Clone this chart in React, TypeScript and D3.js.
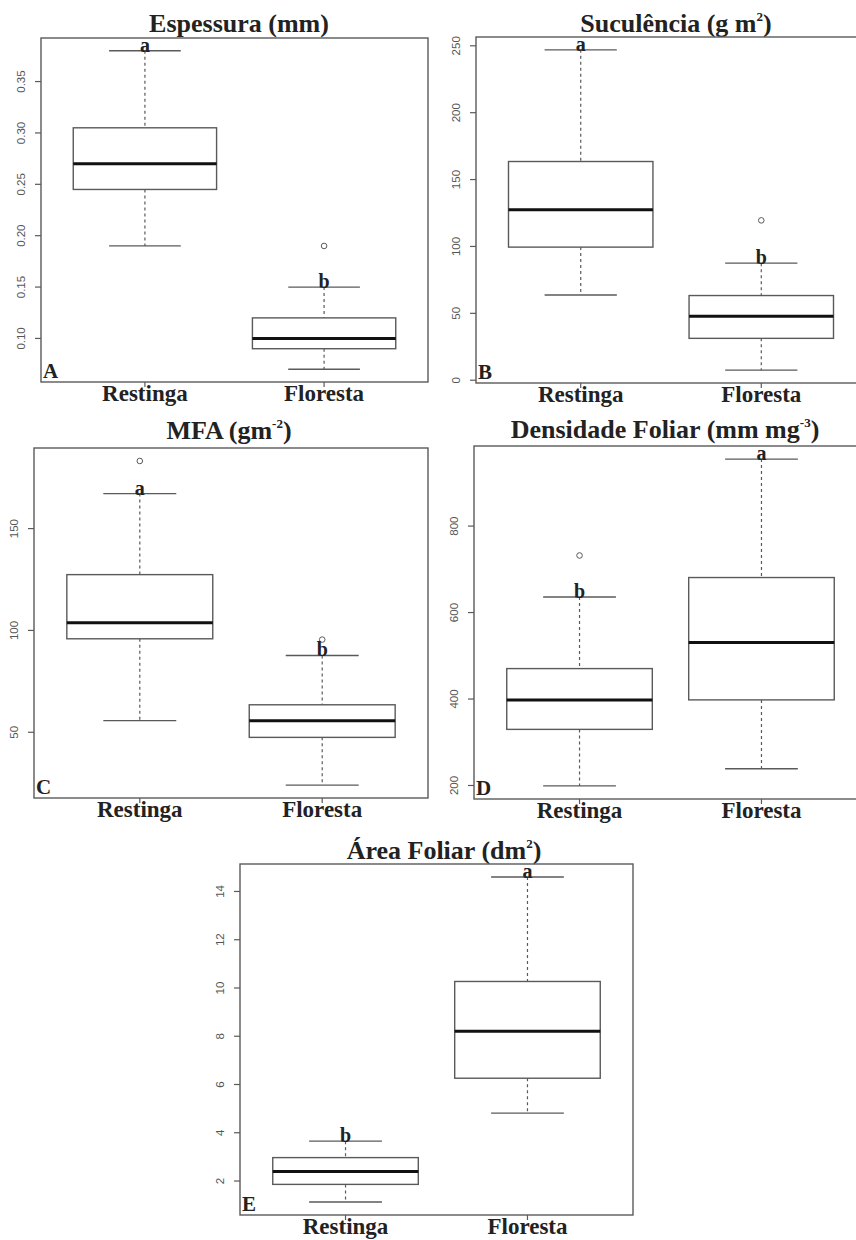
import React from "react";
import * as d3 from "d3";

// Groups shown in every panel
const groups = ["Restinga", "Floresta"];

// Box stats per panel: [lower whisker, Q1, median, Q3, upper whisker] for Restinga, Floresta
const espessuraStats = [
  [0.19, 0.245, 0.27, 0.305, 0.38],
  [0.07, 0.09, 0.1, 0.12, 0.15],
];
const espessuraOutliers = [[], [0.19]];
const espessuraTicks = [0.1, 0.15, 0.2, 0.25, 0.3, 0.35];

const suculenciaStats = [
  [63.7, 99.5, 127.5, 163.5, 247],
  [7.5, 31.3, 47.8, 63.3, 87.5],
];
const suculenciaOutliers = [[], [119.5]];
const suculenciaTicks = [0, 50, 100, 150, 200, 250];

const mfaStats = [
  [55.7, 95.9, 103.8, 127.4, 167.2],
  [24.1, 47.5, 55.7, 63.5, 87.7],
];
const mfaOutliers = [[183.2], [95.5]];
const mfaTicks = [50, 100, 150];

const densidadeStats = [
  [199, 329.8, 397.7, 470.4, 636],
  [238.7, 398, 531, 681, 955],
];
const densidadeOutliers = [[732], []];
const densidadeTicks = [200, 400, 600, 800];

const areaStats = [
  [1.13, 1.86, 2.39, 2.97, 3.65],
  [4.81, 6.26, 8.21, 10.27, 14.6],
];
const areaOutliers = [[], []];
const areaTicks = [2, 4, 6, 8, 10, 12, 14];

const letters = [["a", "b"], ["a", "b"], ["a", "b"], ["b", "a"], ["b", "a"]];
const panelLabels = ["A", "B", "C", "D", "E"];

const SERIF = "'Liberation Serif', 'Times New Roman', serif";
const SANS = "'Liberation Sans', Arial, sans-serif";
const GRAY = "#5a5a5a";

type PanelSpec = {
  stats: number[][];
  outliers: number[][];
  ticks: number[];
  fmt: (v: number) => string;
  title: React.ReactNode;
  box: { x0: number; x1: number; y0: number; y1: number };
  titlePos: [number, number];
};

function sup(t: string) {
  return [
    <tspan key="s" dy={-11} fontSize={13}>{t}</tspan>,
    <tspan key="r" dy={11}>)</tspan>,
  ];
}

const panels: PanelSpec[] = [
  {
    stats: espessuraStats, outliers: espessuraOutliers, ticks: espessuraTicks,
    fmt: d3.format(".2f"), title: "Espessura (mm)",
    box: { x0: 41, x1: 428, y0: 38, y1: 382 }, titlePos: [239, 32],
  },
  {
    stats: suculenciaStats, outliers: suculenciaOutliers, ticks: suculenciaTicks,
    fmt: d3.format("d"), title: <>Suculência (g m{sup("2")}</>,
    box: { x0: 476, x1: 866, y0: 37, y1: 383 }, titlePos: [676, 32],
  },
  {
    stats: mfaStats, outliers: mfaOutliers, ticks: mfaTicks,
    fmt: d3.format("d"), title: <>MFA (gm{sup("-2")}</>,
    box: { x0: 34, x1: 428, y0: 448, y1: 798 }, titlePos: [229, 439],
  },
  {
    stats: densidadeStats, outliers: densidadeOutliers, ticks: densidadeTicks,
    fmt: d3.format("d"), title: <>Densidade Foliar (mm mg{sup("-3")}</>,
    box: { x0: 474, x1: 867, y0: 446, y1: 799 }, titlePos: [665, 438],
  },
  {
    stats: areaStats, outliers: areaOutliers, ticks: areaTicks,
    fmt: d3.format("d"), title: <>Área Foliar (dm{sup("2")}</>,
    box: { x0: 240, x1: 633, y0: 864, y1: 1215 }, titlePos: [444, 859],
  },
];

function BoxPanel({ p, idx }: { p: PanelSpec; idx: number }) {
  const { x0, x1, y0, y1 } = p.box;
  // R-style axis limits: data range padded by 4%
  const all = p.stats.flat().concat(p.outliers.flat());
  const lo = d3.min(all)!, hi = d3.max(all)!;
  const pad = (hi - lo) * 0.04;
  const y = d3.scaleLinear().domain([lo - pad, hi + pad]).range([y1, y0]);
  const x = d3.scaleLinear().domain([0.42, 2.58]).range([x0, x1]);
  const bw = 0.4; // half box width in x units

  return (
    <g>
      <text x={p.titlePos[0]} y={p.titlePos[1]} textAnchor="middle" fontFamily={SERIF}
        fontWeight="bold" fontSize={26} fill="#222">{p.title}</text>
      {p.stats.map((s, i) => {
        const cx = x(i + 1);
        const [wl, q1, med, q3, wh] = s;
        return (
          <g key={i}>
            <line x1={cx} x2={cx} y1={y(wh)} y2={y(q3)} stroke={GRAY} strokeWidth={1.2} strokeDasharray="3,3" />
            <line x1={cx} x2={cx} y1={y(q1)} y2={y(wl)} stroke={GRAY} strokeWidth={1.2} strokeDasharray="3,3" />
            <line x1={x(i + 1 - bw / 2)} x2={x(i + 1 + bw / 2)} y1={y(wh)} y2={y(wh)} stroke={GRAY} strokeWidth={1.3} />
            <line x1={x(i + 1 - bw / 2)} x2={x(i + 1 + bw / 2)} y1={y(wl)} y2={y(wl)} stroke={GRAY} strokeWidth={1.3} />
            <rect x={x(i + 1 - bw)} y={y(q3)} width={x(i + 1 + bw) - x(i + 1 - bw)} height={y(q1) - y(q3)}
              fill="white" stroke={GRAY} strokeWidth={1.4} />
            <line x1={x(i + 1 - bw)} x2={x(i + 1 + bw)} y1={y(med)} y2={y(med)} stroke="#111" strokeWidth={3} />
            {p.outliers[i].map((o, j) => (
              <circle key={j} cx={cx} cy={y(o)} r={2.8} fill="none" stroke={GRAY} strokeWidth={1} />
            ))}
            <text x={cx} y={y(wh) + 1} textAnchor="middle" fontFamily={SERIF} fontWeight="bold"
              fontSize={20} fill="#222">{letters[idx][i]}</text>
            <line x1={cx} x2={cx} y1={y1} y2={y1 + 5} stroke={GRAY} strokeWidth={1.2} />
            <text x={cx} y={y1 + 19} textAnchor="middle" fontFamily={SERIF} fontWeight="bold"
              fontSize={23} fill="#222">{groups[i]}</text>
          </g>
        );
      })}
      {p.ticks.map((t) => (
        <g key={t}>
          <line x1={x0 - 6} x2={x0} y1={y(t)} y2={y(t)} stroke={GRAY} strokeWidth={1.2} />
          <text transform={`translate(${x0 - 16},${y(t)}) rotate(-90)`} textAnchor="middle"
            fontFamily={SANS} fontSize={11.5} fill="#555">{p.fmt(t)}</text>
        </g>
      ))}
      <rect x={x0} y={y0} width={x1 - x0} height={y1 - y0} fill="none" stroke={GRAY} strokeWidth={1.4} />
      <text x={x0 + 2} y={y1 - 4} fontFamily={SERIF} fontWeight="bold" fontSize={21} fill="#222">
        {panelLabels[idx]}
      </text>
    </g>
  );
}

export default function App() {
  return (
    <svg width={856} height={1240} style={{ position: "absolute", left: 0, top: 0, background: "white" }}>
      <rect width={856} height={1240} fill="white" />
      {panels.map((p, i) => <BoxPanel key={i} p={p} idx={i} />)}
    </svg>
  );
}
